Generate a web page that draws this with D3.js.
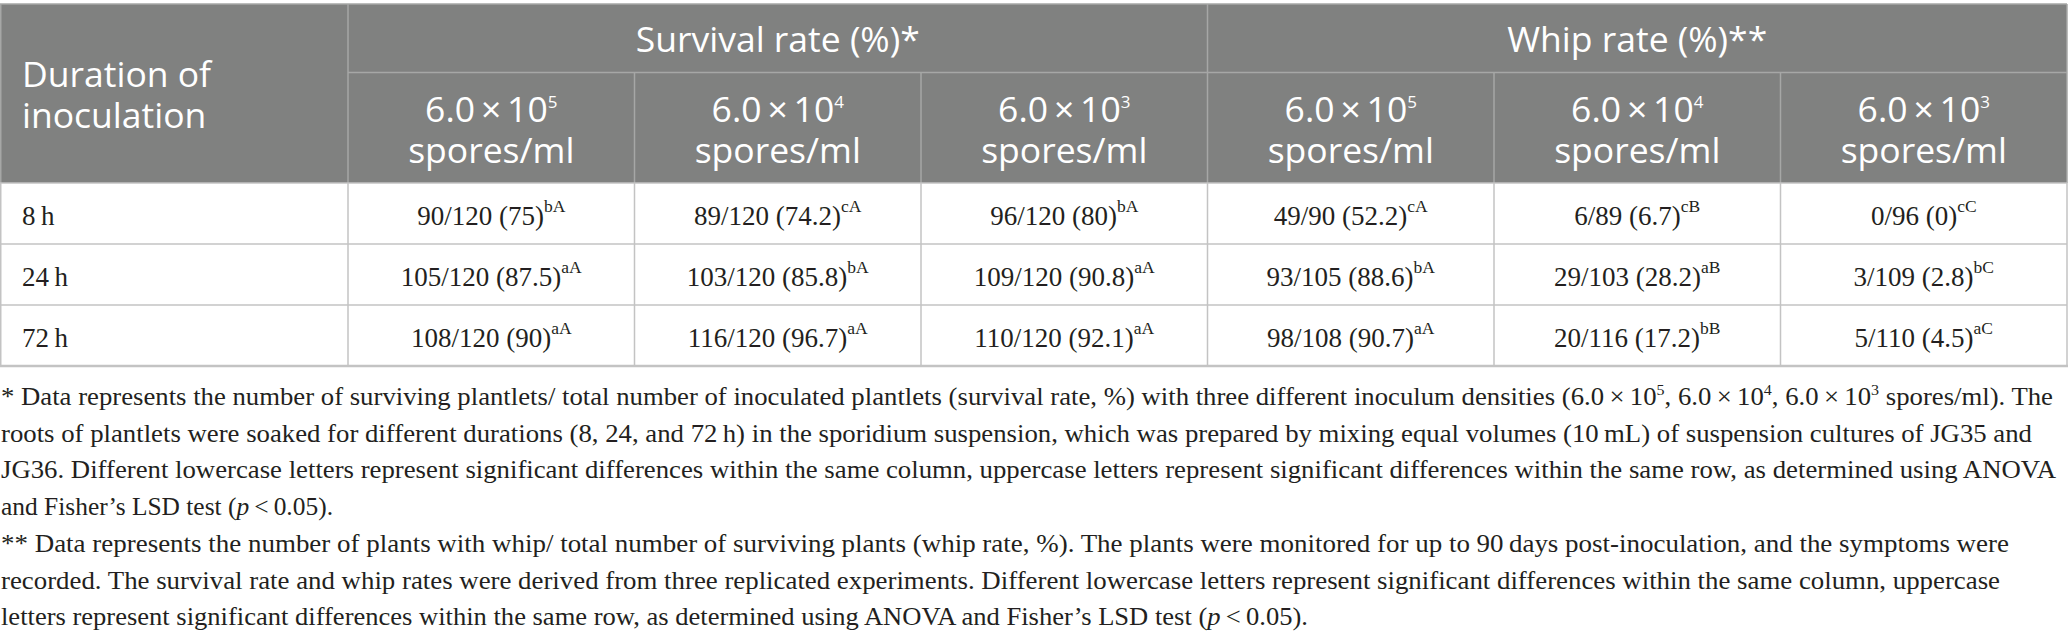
<!DOCTYPE html>
<html>
<head>
<meta charset="utf-8">
<script src="https://cdn.jsdelivr.net/npm/d3@7"></script>
<style>
  body { margin: 0; background: #fff; }
  svg { display: block; }
</style>
</head>
<body>
<div id="table"></div>
<script>
// table values
const durations = ["8\u2009h", "24\u2009h", "72\u2009h"];
const densityExp = ["5", "4", "3"];
const groups = ["Survival rate (%)*", "Whip rate (%)**"];

const survived = [[90, 89, 96], [105, 103, 109], [108, 116, 110]];
const inoculated = [[120, 120, 120], [120, 120, 120], [120, 120, 120]];
const survivalPct = [["75", "74.2", "80"], ["87.5", "85.8", "90.8"], ["90", "96.7", "92.1"]];
const survivalLetters = [["bA", "cA", "bA"], ["aA", "bA", "aA"], ["aA", "aA", "aA"]];

const whipCount = [[49, 6, 0], [93, 29, 3], [98, 20, 5]];
const whipTotal = [[90, 89, 96], [105, 103, 109], [108, 116, 110]];
const whipPct = [["52.2", "6.7", "0"], ["88.6", "28.2", "2.8"], ["90.7", "17.2", "4.5"]];
const whipLetters = [["cA", "cB", "cC"], ["bA", "aB", "bC"], ["aA", "bB", "aC"]];

// footnote lines: [text, style] segments, style "sup" or "i"
const footnotes = [
  [["* Data represents the number of surviving plantlets/ total number of inoculated plantlets (survival rate, %) with three different inoculum densities (6.0\u2009×\u200910"], ["5", "sup"], [", 6.0\u2009×\u200910"], ["4", "sup"], [", 6.0\u2009×\u200910"], ["3", "sup"], [" spores/ml). The"]],
  [["roots of plantlets were soaked for different durations (8, 24, and 72\u2009h) in the sporidium suspension, which was prepared by mixing equal volumes (10\u2009mL) of suspension cultures of JG35 and"]],
  [["JG36. Different lowercase letters represent significant differences within the same column, uppercase letters represent significant differences within the same row, as determined using ANOVA"]],
  [["and Fisher\u2019s LSD test ("], ["p", "i"], ["\u2009<\u20090.05)."]],
  [["** Data represents the number of plants with whip/ total number of surviving plants (whip rate, %). The plants were monitored for up to 90\u2009days post-inoculation, and the symptoms were"]],
  [["recorded. The survival rate and whip rates were derived from three replicated experiments. Different lowercase letters represent significant differences within the same column, uppercase"]],
  [["letters represent significant differences within the same row, as determined using ANOVA and Fisher\u2019s LSD test ("], ["p", "i"], ["\u2009<\u20090.05)."]]
];

// layout
const width = 2068, height = 644;
const tableTop = 4, headSplit = 72.5, headBottom = 183, tableBottom = 366;
const firstColRight = 348, tableRight = 2067;
const footBaseline = 405, footStep = 36.7;
const footEnds = [2053, 2032, 2056, 333, 2009, 2000, 1308];

const headBg = "#808180", headLine = "#a6a7a6", bodyLine = "#c3c3c3", ink = "#231f20";
const sans = "'Open Sans', 'Noto Sans', sans-serif";
const serif = "'Liberation Serif', 'Times New Roman', serif";

const colIndex = d3.range(6);
const x = d3.scaleLinear().domain([0, 6]).range([firstColRight, tableRight]);
const y = d3.scaleBand().domain(durations).range([headBottom, tableBottom]);

// cell rows: 3 survival columns then 3 whip columns
const cells = [];
durations.forEach((dur, r) => {
  colIndex.forEach(c => {
    const k = c % 3;
    const surv = c < 3;
    cells.push({
      dur: dur, col: c,
      main: surv
        ? `${survived[r][k]}/${inoculated[r][k]} (${survivalPct[r][k]})`
        : `${whipCount[r][k]}/${whipTotal[r][k]} (${whipPct[r][k]})`,
      sup: surv ? survivalLetters[r][k] : whipLetters[r][k]
    });
  });
});

const svg = d3.select("#table").append("svg")
  .attr("width", width)
  .attr("height", height)
  .attr("viewBox", [0, 0, width, height]);

// header background
svg.append("rect")
  .attr("x", 0).attr("y", tableTop)
  .attr("width", tableRight).attr("height", headBottom - tableTop)
  .attr("fill", headBg);

// header grid lines
const hl = svg.append("g").attr("stroke", headLine).attr("stroke-width", 1.5);
hl.append("line").attr("x1", 0).attr("x2", tableRight).attr("y1", tableTop).attr("y2", tableTop);
hl.append("line").attr("x1", firstColRight).attr("x2", tableRight).attr("y1", headSplit).attr("y2", headSplit);
hl.append("line").attr("x1", x(3)).attr("x2", x(3)).attr("y1", tableTop).attr("y2", headSplit);
hl.selectAll(".vh")
  .data(d3.range(0, 7))
  .enter().append("line")
    .attr("x1", d => x(d)).attr("x2", d => x(d))
    .attr("y1", d => (d === 0 || d === 6) ? tableTop : headSplit)
    .attr("y2", headBottom);
hl.append("line").attr("x1", 0.75).attr("x2", 0.75).attr("y1", tableTop).attr("y2", headBottom);

// body grid lines
const bl = svg.append("g").attr("stroke", bodyLine).attr("stroke-width", 1.5);
bl.selectAll(".hb")
  .data(durations.slice(1))
  .enter().append("line")
    .attr("x1", 0).attr("x2", tableRight)
    .attr("y1", d => y(d)).attr("y2", d => y(d));
bl.append("line").attr("x1", 0).attr("x2", tableRight + 1)
  .attr("y1", tableBottom).attr("y2", tableBottom).attr("stroke-width", 2.5);
bl.append("line").attr("x1", 0).attr("x2", tableRight)
  .attr("y1", headBottom).attr("y2", headBottom);
bl.selectAll(".vb")
  .data(d3.range(0, 7))
  .enter().append("line")
    .attr("x1", d => x(d)).attr("x2", d => x(d))
    .attr("y1", headBottom).attr("y2", tableBottom);
bl.append("line").attr("x1", 0.75).attr("x2", 0.75).attr("y1", headBottom).attr("y2", tableBottom);

// header texts
const ht = svg.append("g").attr("fill", "#fff").attr("font-family", sans).attr("font-size", 35.5);

const durHead = ht.append("text").attr("x", 22);
durHead.append("tspan").attr("x", 22).attr("y", 87).text("Duration of");
durHead.append("tspan").attr("x", 22).attr("y", 128).text("inoculation");

ht.selectAll(".grp")
  .data(groups)
  .enter().append("text")
    .attr("x", (d, i) => (x(i * 3) + x(i * 3 + 3)) / 2)
    .attr("y", 52)
    .attr("text-anchor", "middle")
    .text(d => d);

colIndex.forEach(c => {
  const cx = (x(c) + x(c + 1)) / 2;
  const t = ht.append("text").attr("text-anchor", "middle");
  t.append("tspan").attr("x", cx).attr("y", 121.5).text("6.0\u2009×\u200910");
  t.append("tspan").attr("font-size", 17).attr("dy", -13.5).text(densityExp[c % 3]);
  ht.append("text").attr("text-anchor", "middle")
    .attr("x", cx).attr("y", 162.5).text("spores/ml");
});

// body texts
const bt = svg.append("g").attr("fill", ink).attr("font-family", serif).attr("font-size", 27);

bt.selectAll(".dur")
  .data(durations)
  .enter().append("text")
    .attr("x", 22)
    .attr("y", d => y(d) + 42)
    .text(d => d);

const cellText = bt.selectAll(".cell")
  .data(cells)
  .enter().append("text")
    .attr("x", d => (x(d.col) + x(d.col + 1)) / 2)
    .attr("y", d => y(d.dur) + 42)
    .attr("text-anchor", "middle");
cellText.append("tspan").text(d => d.main);
cellText.append("tspan").attr("font-size", 17.5).attr("dy", -13).text(d => d.sup);

// footnotes
const ft = svg.append("g").attr("fill", ink).attr("font-family", serif).attr("font-size", 25);

footnotes.forEach((segs, i) => {
  const t = ft.append("text")
    .attr("x", 1)
    .attr("y", footBaseline + i * footStep)
    .attr("textLength", footEnds[i] - 1)
    .attr("lengthAdjust", "spacingAndGlyphs");
  let raised = false;
  segs.forEach(([s, style]) => {
    const sp = t.append("tspan").text(s);
    if (style === "sup") {
      sp.attr("font-size", 15).attr("dy", -10);
      raised = true;
    } else {
      if (raised) { sp.attr("dy", 10); raised = false; }
      if (style === "i") sp.attr("font-style", "italic");
    }
  });
});
</script>
</body>
</html>
